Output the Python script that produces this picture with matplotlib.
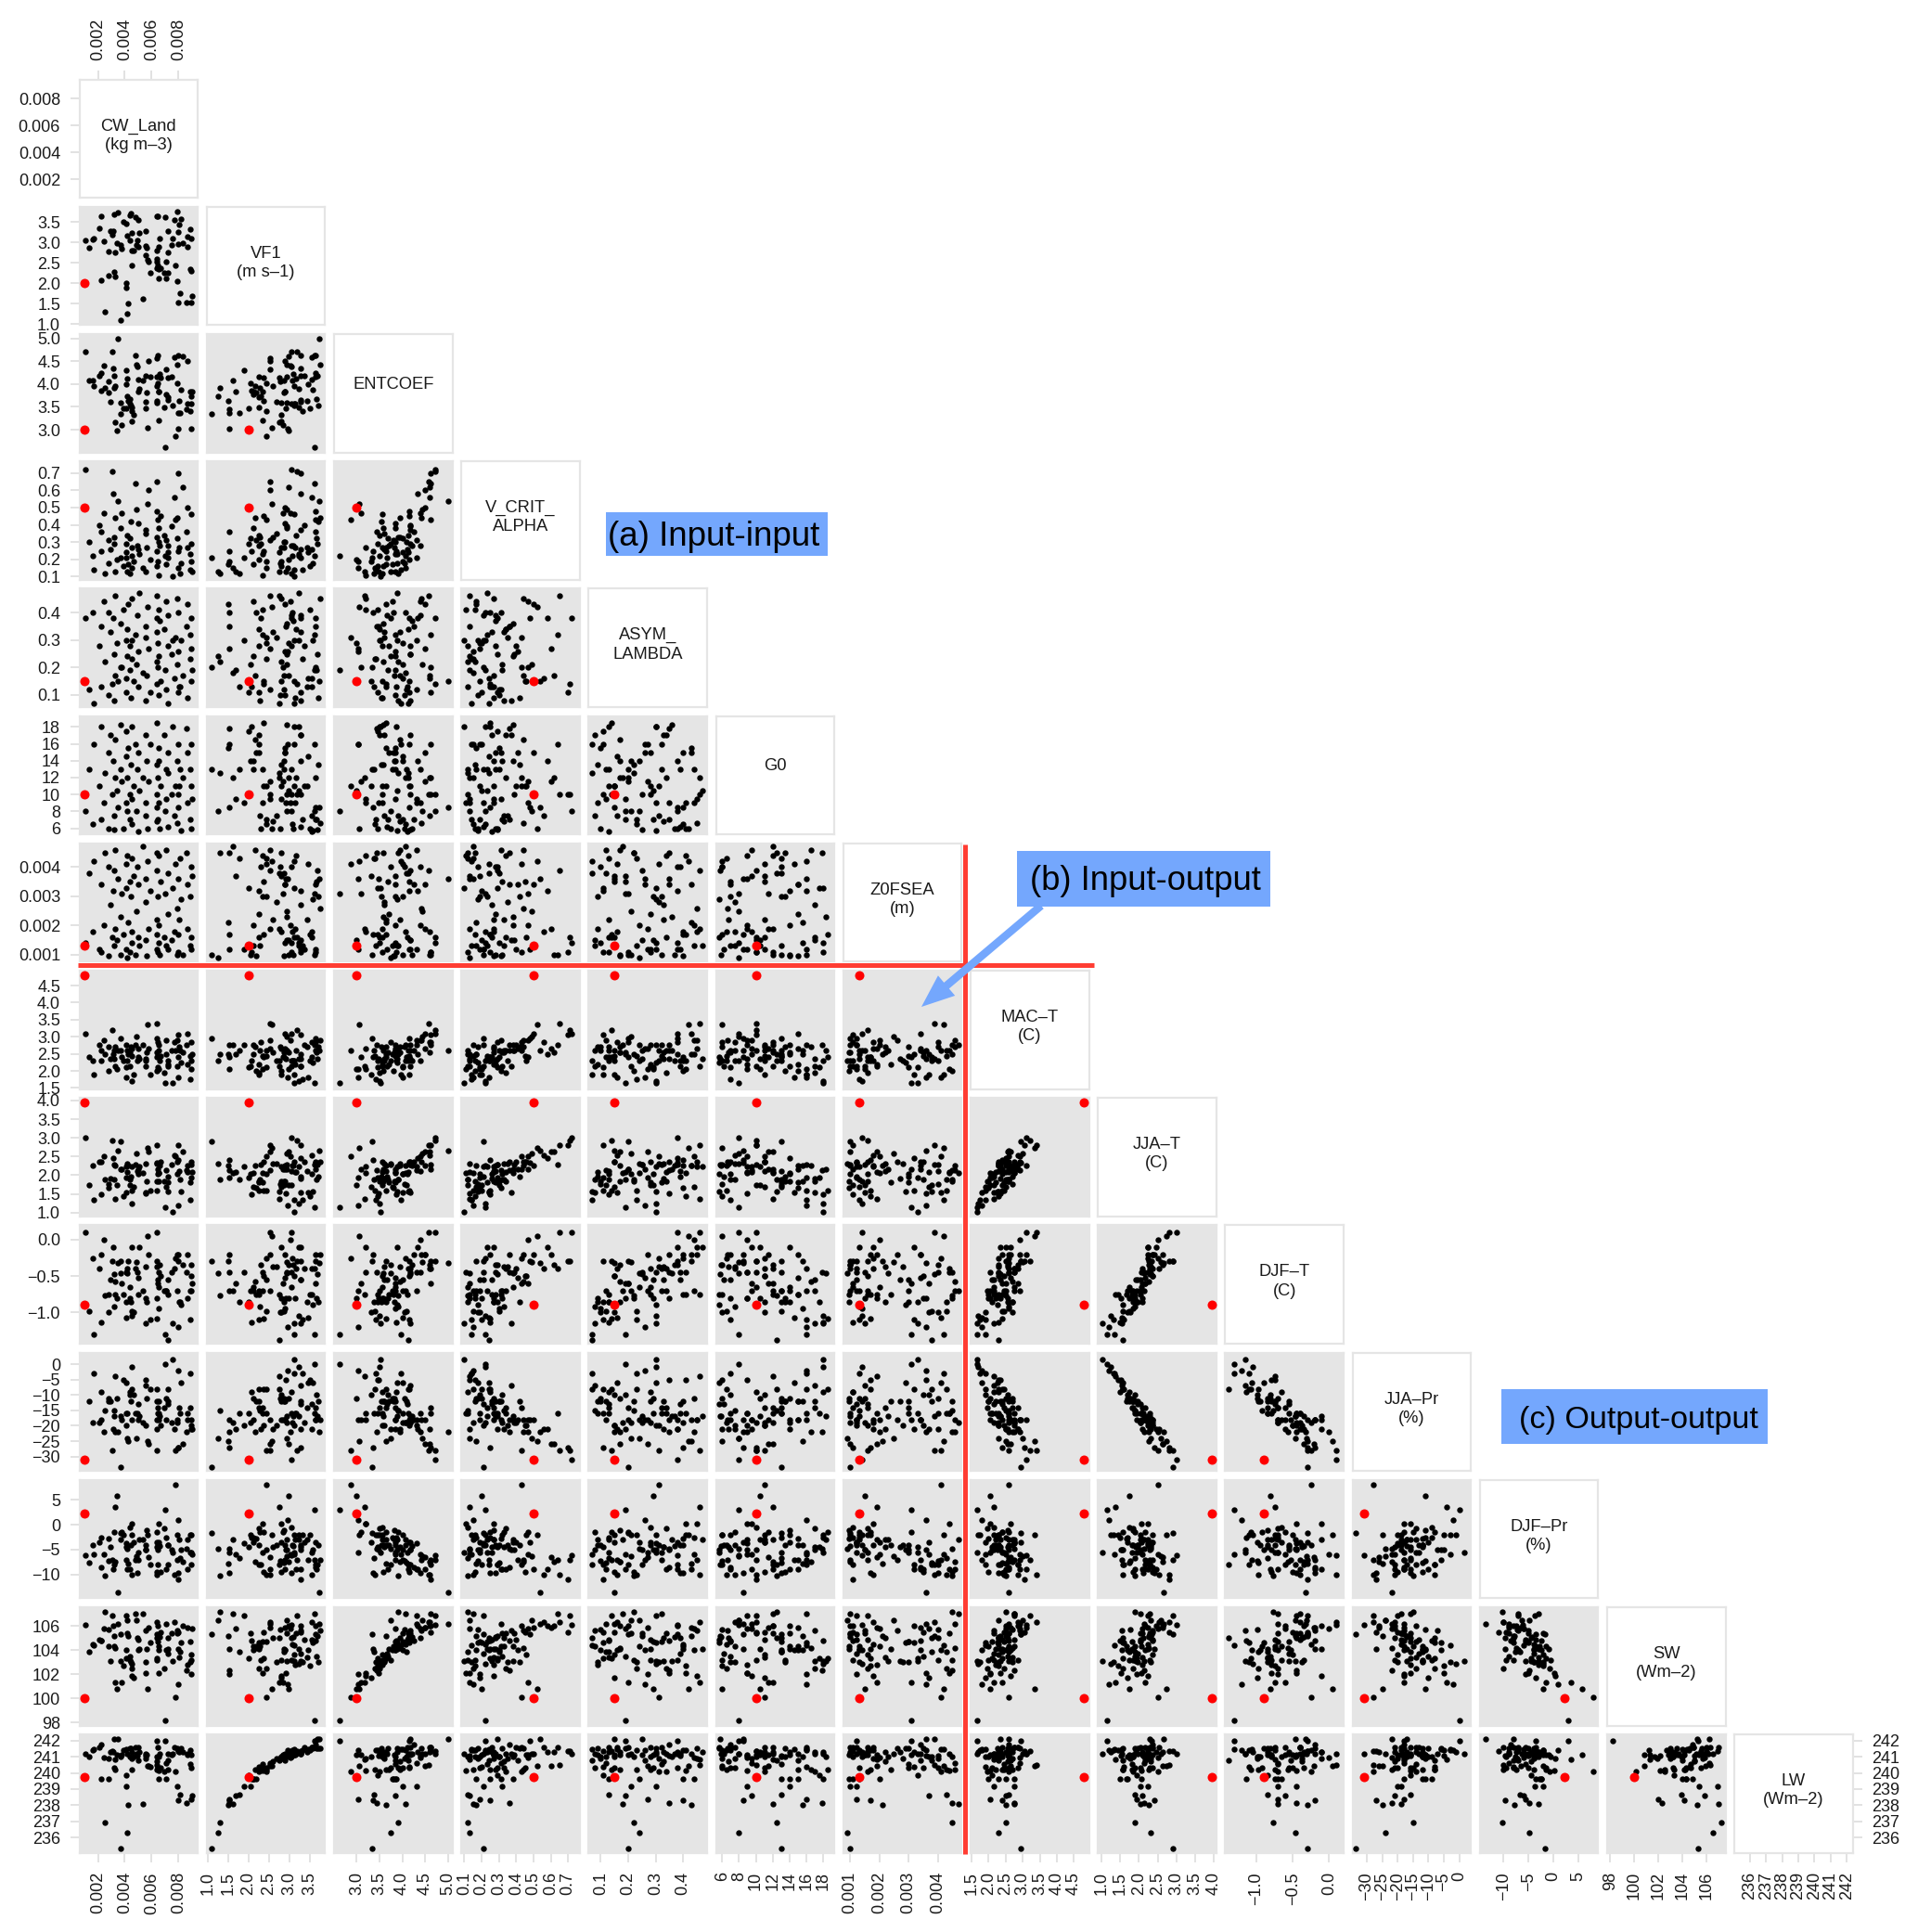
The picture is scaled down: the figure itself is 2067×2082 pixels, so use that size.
import matplotlib
matplotlib.use("Agg")
import matplotlib.pyplot as plt
from matplotlib.lines import Line2D
from matplotlib.patches import FancyArrowPatch, Rectangle

plt.rcParams["font.family"] = ["Liberation Sans", "DejaVu Sans"]

W, H = 2067, 2082

# ensemble members
cw_land = [.00108,.00131,.00159,.00166,.00209,.00225,.00225,.00253,.00246,.00276,.0028,.00294,.00308,.00315,.0032,.00322,.00326,.00326,.00338,.00349,.00368,.0037,.00377,.0039,.00407,.00407,.00411,.00414,.00418,.00423,.00437,.00437,.00446,.00453,.00453,.00453,.00469,.00478,.00487,.00494,.00499,.00503,.00506,.00533,.00552,.00556,.00556,.00563,.00566,.00575,.00593,.00637,.00637,.00637,.00637,.00641,.00648,.00648,.00653,.00655,.00655,.0066,.00667,.00694,.00703,.00708,.0071,.00722,.00724,.00724,.00747,.00752,.0077,.00777,.00789,.00791,.00795,.008,.008,.00805,.00809,.00814,.00832,.00869,.00869,.00862,.00883,.00883,.00892,.00892,.00894,.00903]
vf1 = [3.05,2.87,3.08,3.11,3.36,3.65,2.08,1.31,3.03,2.2,2.79,3.28,3.2,3.28,2.28,3.68,2.75,2.16,2.98,3.73,2.94,1.1,2.85,3.5,3.47,1.9,2.01,1.25,3.17,1.5,3.66,3.05,3.71,3.23,2.44,2.8,2.8,3.62,2.94,3.05,3.56,2.9,3.24,1.63,2.68,3.28,2.92,2.88,2.58,2.53,2.25,3.64,2.8,2.6,2.37,2.53,3.64,2.45,2.9,2.34,2.12,3.09,2.37,2.26,3.62,2.12,2.53,2.26,3.28,2.75,2.94,3.11,3.56,2.43,2.05,3.75,3.27,2.96,1.54,3.45,1.77,3.58,2.98,2.9,3.15,1.54,3.32,2.35,3.11,2.31,1.53,1.69]
entcoef = [4.72,4.08,4.07,3.96,4.18,4.25,3.86,3.91,4.40,3.81,4.05,3.61,4.72,4.34,3.91,4.18,3.17,3.95,2.99,5.0,3.59,3.34,3.10,3.46,4.0,4.31,3.46,3.74,4.13,3.64,3.68,3.57,3.54,3.49,3.40,3.19,3.32,4.62,4.43,4.39,4.11,3.84,3.89,4.07,3.61,4.18,3.47,3.82,3.05,4.5,4.16,4.16,3.59,3.95,3.64,4.57,4.62,4.01,3.84,3.20,3.84,4.22,4.15,3.49,2.62,3.78,4.32,3.71,3.66,4.14,4.17,3.53,4.59,2.86,4.01,4.42,4.62,3.03,3.36,3.64,3.37,3.88,4.6,4.5,3.57,3.44,3.41,3.84,3.57,3.74,3.03,3.84]
v_crit = [.72,.30,.22,.14,.40,.36,.25,.12,.47,.31,.18,.26,.71,.58,.33,.29,.13,.44,.20,.54,.38,.21,.47,.16,.24,.21,.29,.13,.34,.17,.32,.12,.42,.22,.15,.27,.19,.64,.49,.28,.26,.41,.23,.15,.35,.37,.13,.27,.52,.60,.20,.48,.16,.33,.25,.65,.43,.19,.30,.11,.38,.28,.45,.34,.22,.17,.31,.28,.21,.24,.39,.10,.56,.43,.32,.44,.70,.15,.25,.27,.12,.18,.62,.50,.27,.36,.14,.23,.46,.29,.19,.13]
asym = [.38,.12,.40,.07,.28,.35,.13,.22,.44,.40,.10,.33,.14,.38,.08,.25,.46,.17,.29,.15,.36,.20,.20,.41,.16,.30,.11,.24,.34,.43,.19,.28,.09,.30,.23,.45,.15,.32,.21,.39,.13,.26,.47,.18,.31,.08,.35,.17,.42,.27,.11,.38,.22,.33,.14,.46,.20,.29,.10,.41,.24,.37,.15,.34,.19,.44,.12,.28,.39,.07,.25,.30,.16,.31,.21,.45,.11,.26,.40,.13,.13,.30,.17,.43,.09,.35,.23,.32,.15,.38,.27,.19]
g0 = [8,13,6.5,16,11,7,18,12.5,9,15,6,17,10,14,7.5,5.8,12,16.5,10.5,8.5,18.3,13,11.5,6,14.5,9,17.5,8,12,15.5,7,10,13.5,18,6.5,9.5,11,16,8,13,5.6,15,10.5,12,7.5,17,9,14,6,11.5,16,8.5,13.5,6.8,18.5,10,12,7,15.5,9,14,5.9,11,17,8,13,9.5,15,6.2,12.5,10,18,7.5,11,14,6.6,10,16,8.5,11,13,5.7,12,15,9,17.8,7,13,11,6,16,9.5]
z0fsea = [.0014,.0038,.0018,.0042,.0012,.0034,.0011,.0045,.0020,.00095,.0040,.0027,.0016,.0032,.0013,.0039,.0019,.0046,.0015,.0036,.0023,.0010,.0031,.0017,.0041,.0012,.0033,.0009,.0044,.0021,.0035,.0011,.0030,.0014,.0043,.0018,.0037,.0010,.0025,.0040,.0016,.0034,.0013,.0047,.0028,.0015,.0036,.00095,.0042,.0019,.0032,.0012,.0045,.0022,.0017,.0039,.0011,.0030,.0014,.0044,.0020,.0010,.0035,.0016,.0031,.0013,.0046,.0024,.0012,.0038,.0015,.0033,.0018,.0041,.00098,.0026,.0011,.0036,.0017,.0022,.0043,.0029,.0010,.0034,.0019,.0045,.0013,.0030,.0016,.0040,.0012,.0037]
mac_t = [3.1,2.4,2.3,1.9,2.75,2.6,2.3,2.5,2.9,2.0,2.7,2.35,3.2,2.5,2.6,2.35,2.15,2.7,2.05,2.6,2.6,2.95,2.4,2.3,1.8,2.75,2.1,2.3,2.6,2.5,2.55,2.15,2.7,1.7,2.45,2.65,1.9,2.75,3.0,2.3,2.4,2.65,2.35,2.75,2.3,2.15,2.35,2.55,3.35,2.65,1.9,2.95,2.0,2.55,2.4,3.4,2.85,2.1,2.6,2.05,2.75,2.3,2.45,1.95,1.65,2.5,2.9,2.2,2.15,2.3,2.6,1.65,2.85,2.6,2.15,2.9,3.05,1.8,2.4,2.7,2.6,2.25,2.55,3.1,2.2,2.75,1.75,2.45,2.3,2.85,2.05,2.5]
jja_t = [3.0,1.75,2.25,1.35,2.35,2.37,1.5,1.9,2.5,1.67,1.76,1.92,2.92,2.46,1.88,2.29,1.36,2.26,1.75,2.65,2.15,2.9,2.17,1.45,1.55,2.24,1.95,2.31,2.08,2.27,1.89,1.74,1.97,1.25,1.58,2.24,1.68,2.28,2.58,2.11,2.04,2.17,2.23,2.05,2.32,1.54,1.51,1.84,2.74,2.63,1.6,2.33,1.85,2.32,1.58,2.8,2.16,2.03,1.83,2.07,2.06,2.26,2.35,1.83,1.15,1.69,2.14,1.81,1.96,1.56,2.28,1.02,2.54,2.51,2.04,2.35,2.8,1.2,2.42,2.1,1.89,1.57,2.64,2.25,2.09,2.13,1.33,1.81,2.37,2.28,1.93,2.08]
djf_t = [.1,-.98,-.25,-1.3,-.4,-.2,-1.14,-.77,0,-.75,-.99,-.55,-.3,-.1,-.92,-.47,-.75,-.57,-.81,-.32,-.46,-.3,-.6,-.75,-1.07,-.45,-.85,-.46,-.4,-.3,-.81,-.65,-.85,-1.05,-.98,-.1,-.99,-.4,-.31,-.45,-.75,-.53,-.1,-.7,-.37,-1.15,-.8,-.85,.05,-.21,-1.1,-.3,-.8,-.37,-1.08,.1,-.6,-.55,-.95,-.45,-.65,-.35,-.5,-.7,-1.3,-.7,-.7,-.75,-.55,-1.38,-.45,-1.15,-.4,-.25,-.7,-.2,-.3,-1.2,-.2,-.85,-.85,-.9,-.35,-.2,-.8,-.45,-1.1,-.7,-.5,-.35,-.7,-.6]
jja_pr = [-31,-12,-19,-3,-19,-18,-9,-15,-22,-12,-11,-12,-28,-21,-15,-17,-4,-22,-11,-22,-17,-33.5,-18,-5,-6,-20,-16,-24,-16,-25,-10,-9,-12,-1,-8,-18,-10,-16,-24,-16,-13,-18,-17,-19,-20,-7,-5,-11,-25,-26,-8,-18,-12,-21,-8,-28,-14,-16,-12,-16,-18,-17,-20,-14,0,-11,-18,-12,-13,-8,-19,1.5,-21,-28,-19,-18,-27,-2,-27,-14,-16,-6,-26,-18,-16,-22,-3,-14,-20,-21,-18,-21]
djf_pr = [-6.2,-7.6,-4,-6,-3.5,-8.5,-2.5,-10.3,-6,-2.7,-7.2,-4.5,-7,-9,-1.5,-8,3.5,-7.5,5.8,-13.6,-3,-1.6,-1.5,-2,-7,-3.7,-4.5,-4.8,-9,-7.9,-9,-.5,-4,-2,-10,.3,-3.5,-7,-6.3,-9.7,-5.5,-7,-3,-3,-4,-5,-5,-1,-2,-6.5,-8,-3.5,-9.5,-4.5,-1.5,-10,-8,-5,-4,.2,-3.5,-4.3,-9.5,-.8,3,-2.5,-9,-4,-4,-8,-5,-5.5,-10,8,-2,-7,-11,1,-9.7,-3,-6.7,-5,-7.5,-9,-3,-4.9,-2,-5.5,-2,-8,-5.5,-6]
sw = [106.1,103.9,104.5,104.4,104.9,104.8,104.8,107.2,105.8,104.3,105.7,103.1,106.9,106.0,104.3,105.2,101.3,104.2,100.8,106.2,103.1,105.3,101.3,102.7,104.0,106.9,103.3,106.5,105.4,105.2,103.5,103.2,103.0,102.9,102.5,101.9,101.7,107.0,106.5,105.0,104.9,104.0,104.1,107.0,103.0,105.6,102.1,104.1,100.8,105.9,104.6,105.3,103.2,105.0,103.3,106.3,106.0,104.7,104.0,102.1,104.3,105.1,105.5,102.5,98.2,104.0,106.2,104.1,103.7,105.0,105.4,103.1,106.3,100.1,105.4,105.6,105.5,101.2,104.1,103.4,103.9,104.6,106.0,105.9,102.8,102.3,103.0,104.7,103.6,103.2,102.0,105.8]
lw = [241.2,241.0,241.4,241.45,241.6,241.75,239.65,236.9,240.95,239.65,240.9,241.3,241.35,241.3,240.3,242.1,240.85,240.2,241.1,242.1,241.0,235.3,241.1,241.4,241.45,239.15,239.85,236.3,241.2,238.0,241.5,241.0,241.5,241.3,240.2,240.9,241.0,241.6,241.2,241.05,241.6,240.8,241.3,238.1,240.9,241.15,241.05,241.1,240.45,240.45,240.4,242.0,241.0,240.7,240.2,240.5,241.6,240.3,241.0,240.15,239.6,241.2,240.3,240.1,242.0,239.6,240.6,240.2,241.2,240.8,241.1,241.2,241.6,240.1,239.15,241.5,241.35,241.4,238.3,241.3,238.65,241.55,241.3,241.2,241.1,238.15,241.4,240.55,241.1,240.3,238.35,238.6]

series = [cw_land, vf1, entcoef, v_crit, asym, g0, z0fsea, mac_t, jja_t, djf_t, jja_pr, djf_pr, sw, lw]
default_run = [.001, 2.0, 3.0, .5, .15, 10, .0013, 4.8, 3.95, -.9, -31, 2.3, 100, 239.75]

names = ["CW_Land\n(kg m\u20133)", "VF1\n(m s\u20131)", "ENTCOEF", "V_CRIT_\nALPHA",
         "ASYM_\nLAMBDA", "G0", "Z0FSEA\n(m)", "MAC\u2013T\n(C)", "JJA\u2013T\n(C)",
         "DJF\u2013T\n(C)", "JJA\u2013Pr\n(%)", "DJF\u2013Pr\n(%)", "SW\n(Wm\u20132)",
         "LW\n(Wm\u20132)"]
limits = [(.00062, .00943), (.977, 3.88), (2.50, 5.10), (.082, .768), (.056, .487),
          (5.27, 19.3), (.00076, .00482), (1.47, 4.94), (.9, 4.07), (-1.43, .2),
          (-34.7, 3.8), (-14.8, 9.06), (97.74, 107.57), (235.04, 242.38)]
ticks = [[.002, .004, .006, .008], [1, 1.5, 2, 2.5, 3, 3.5], [3, 3.5, 4, 4.5, 5],
         [.1, .2, .3, .4, .5, .6, .7], [.1, .2, .3, .4], [6, 8, 10, 12, 14, 16, 18],
         [.001, .002, .003, .004], [1.5, 2, 2.5, 3, 3.5, 4, 4.5], [1, 1.5, 2, 2.5, 3, 3.5, 4],
         [-1, -.5, 0], [-30, -25, -20, -15, -10, -5, 0], [-10, -5, 0, 5],
         [98, 100, 102, 104, 106], [236, 237, 238, 239, 240, 241, 242]]
tick_labels = [["0.002", "0.004", "0.006", "0.008"], ["1.0", "1.5", "2.0", "2.5", "3.0", "3.5"],
               ["3.0", "3.5", "4.0", "4.5", "5.0"], ["0.1", "0.2", "0.3", "0.4", "0.5", "0.6", "0.7"],
               ["0.1", "0.2", "0.3", "0.4"], ["6", "8", "10", "12", "14", "16", "18"],
               ["0.001", "0.002", "0.003", "0.004"], ["1.5", "2.0", "2.5", "3.0", "3.5", "4.0", "4.5"],
               ["1.0", "1.5", "2.0", "2.5", "3.0", "3.5", "4.0"], ["\u22121.0", "\u22120.5", "0.0"],
               ["\u221230", "\u221225", "\u221220", "\u221215", "\u221210", "\u22125", "0"],
               ["\u221210", "\u22125", "0", "5"], ["98", "100", "102", "104", "106"],
               ["236", "237", "238", "239", "240", "241", "242"]]

GREY = "#e5e5e5"
TEXT = "#1a1a1a"
RED_LINE = "#ff3d33"
BLUE = "#74a7fd"
X0, Y0, STEP, SIZE = 85.5, 85.5, 137.2, 127.7
TICK_FS = 13

fig = plt.figure(figsize=(W / 100, H / 100), dpi=100)


def fx(px):
    return px / W


def fy(py):
    return 1 - py / H


n = len(series)
for i in range(n):
    for j in range(i + 1):
        left = X0 + j * STEP
        top = Y0 + i * STEP
        ax = fig.add_axes([fx(left), fy(top + SIZE), SIZE / W, SIZE / H])
        ax.set_xlim(limits[j])
        ax.set_ylim(limits[i])
        ax.set_xticks([])
        ax.set_yticks([])
        for s in ax.spines.values():
            s.set_color(GREY)
            s.set_linewidth(1.6)
        if i == j:
            # single-line names sit higher in the box than the two-line ones
            ypos = .575 if "\n" not in names[i] else .525
            ax.text(.5, ypos, names[i], transform=ax.transAxes, ha="center", va="center",
                    fontsize=13.2, color=TEXT, linespacing=1.25)
        else:
            ax.set_facecolor(GREY)
            ax.scatter(series[j], series[i], s=21, c="black", linewidths=0, zorder=3, clip_on=True)
            ax.scatter([default_run[j]], [default_run[i]], s=52, c="#ff0000", linewidths=0, zorder=4)
        tick_kw = dict(length=7.2, width=1.2, color="#dddddd", labelsize=TICK_FS,
                       labelcolor=TEXT, pad=7.5)
        if j == 0:
            ax.set_yticks(ticks[i], tick_labels[i])
            ax.tick_params(axis="y", left=True, **tick_kw)
        if i == n - 1:
            ax.set_xticks(ticks[j], tick_labels[j], rotation=90)
            ax.tick_params(axis="x", bottom=True, **tick_kw)
        if i == 0 and j == 0:
            ax.set_xticks(ticks[0], tick_labels[0], rotation=90)
            ax.tick_params(axis="x", top=True, bottom=False, labeltop=True, labelbottom=False, **tick_kw)
        if i == n - 1 and j == n - 1:
            ax.set_yticks(ticks[i], tick_labels[i])
            ax.tick_params(axis="y", right=True, left=False, labelright=True, labelleft=False, **tick_kw)

# red separators between the inputs and the outputs
fig.add_artist(Line2D([fx(1040), fx(1040)], [fy(910), fy(1998)], color=RED_LINE, lw=3.6,
                      solid_capstyle="butt", zorder=10))
fig.add_artist(Line2D([fx(84), fx(1179)], [fy(1040), fy(1040)], color=RED_LINE, lw=3.6,
                      solid_capstyle="butt", zorder=10))

# blue callouts
callouts = [("(a) Input-input", 653, 552, 239, 47, 655, 578, 26.5),
            ("(b) Input-output", 1096, 917, 273, 60, 1110, 950, 26.2),
            ("(c) Output-output", 1618, 1497, 287, 59, 1637, 1530, 24.6)]
for label, bx, by, bw, bh, tx, ty, fs in callouts:
    fig.add_artist(Rectangle((fx(bx), fy(by + bh)), bw / W, bh / H, transform=fig.transFigure,
                             facecolor=BLUE, edgecolor="none", zorder=11))
    fig.text(fx(tx), fy(ty), label, fontsize=fs, color="black", ha="left", va="center", zorder=12)

arrow = FancyArrowPatch((fx(1122), fy(976)), (fx(993), fy(1085)), transform=fig.transFigure,
                        arrowstyle="simple,head_length=1.5,head_width=1.2,tail_width=0.36",
                        mutation_scale=17, facecolor=BLUE, edgecolor="none", zorder=11,
                        shrinkA=0, shrinkB=0)
fig.add_artist(arrow)

fig.savefig("out.png", dpi=100, facecolor="white")
